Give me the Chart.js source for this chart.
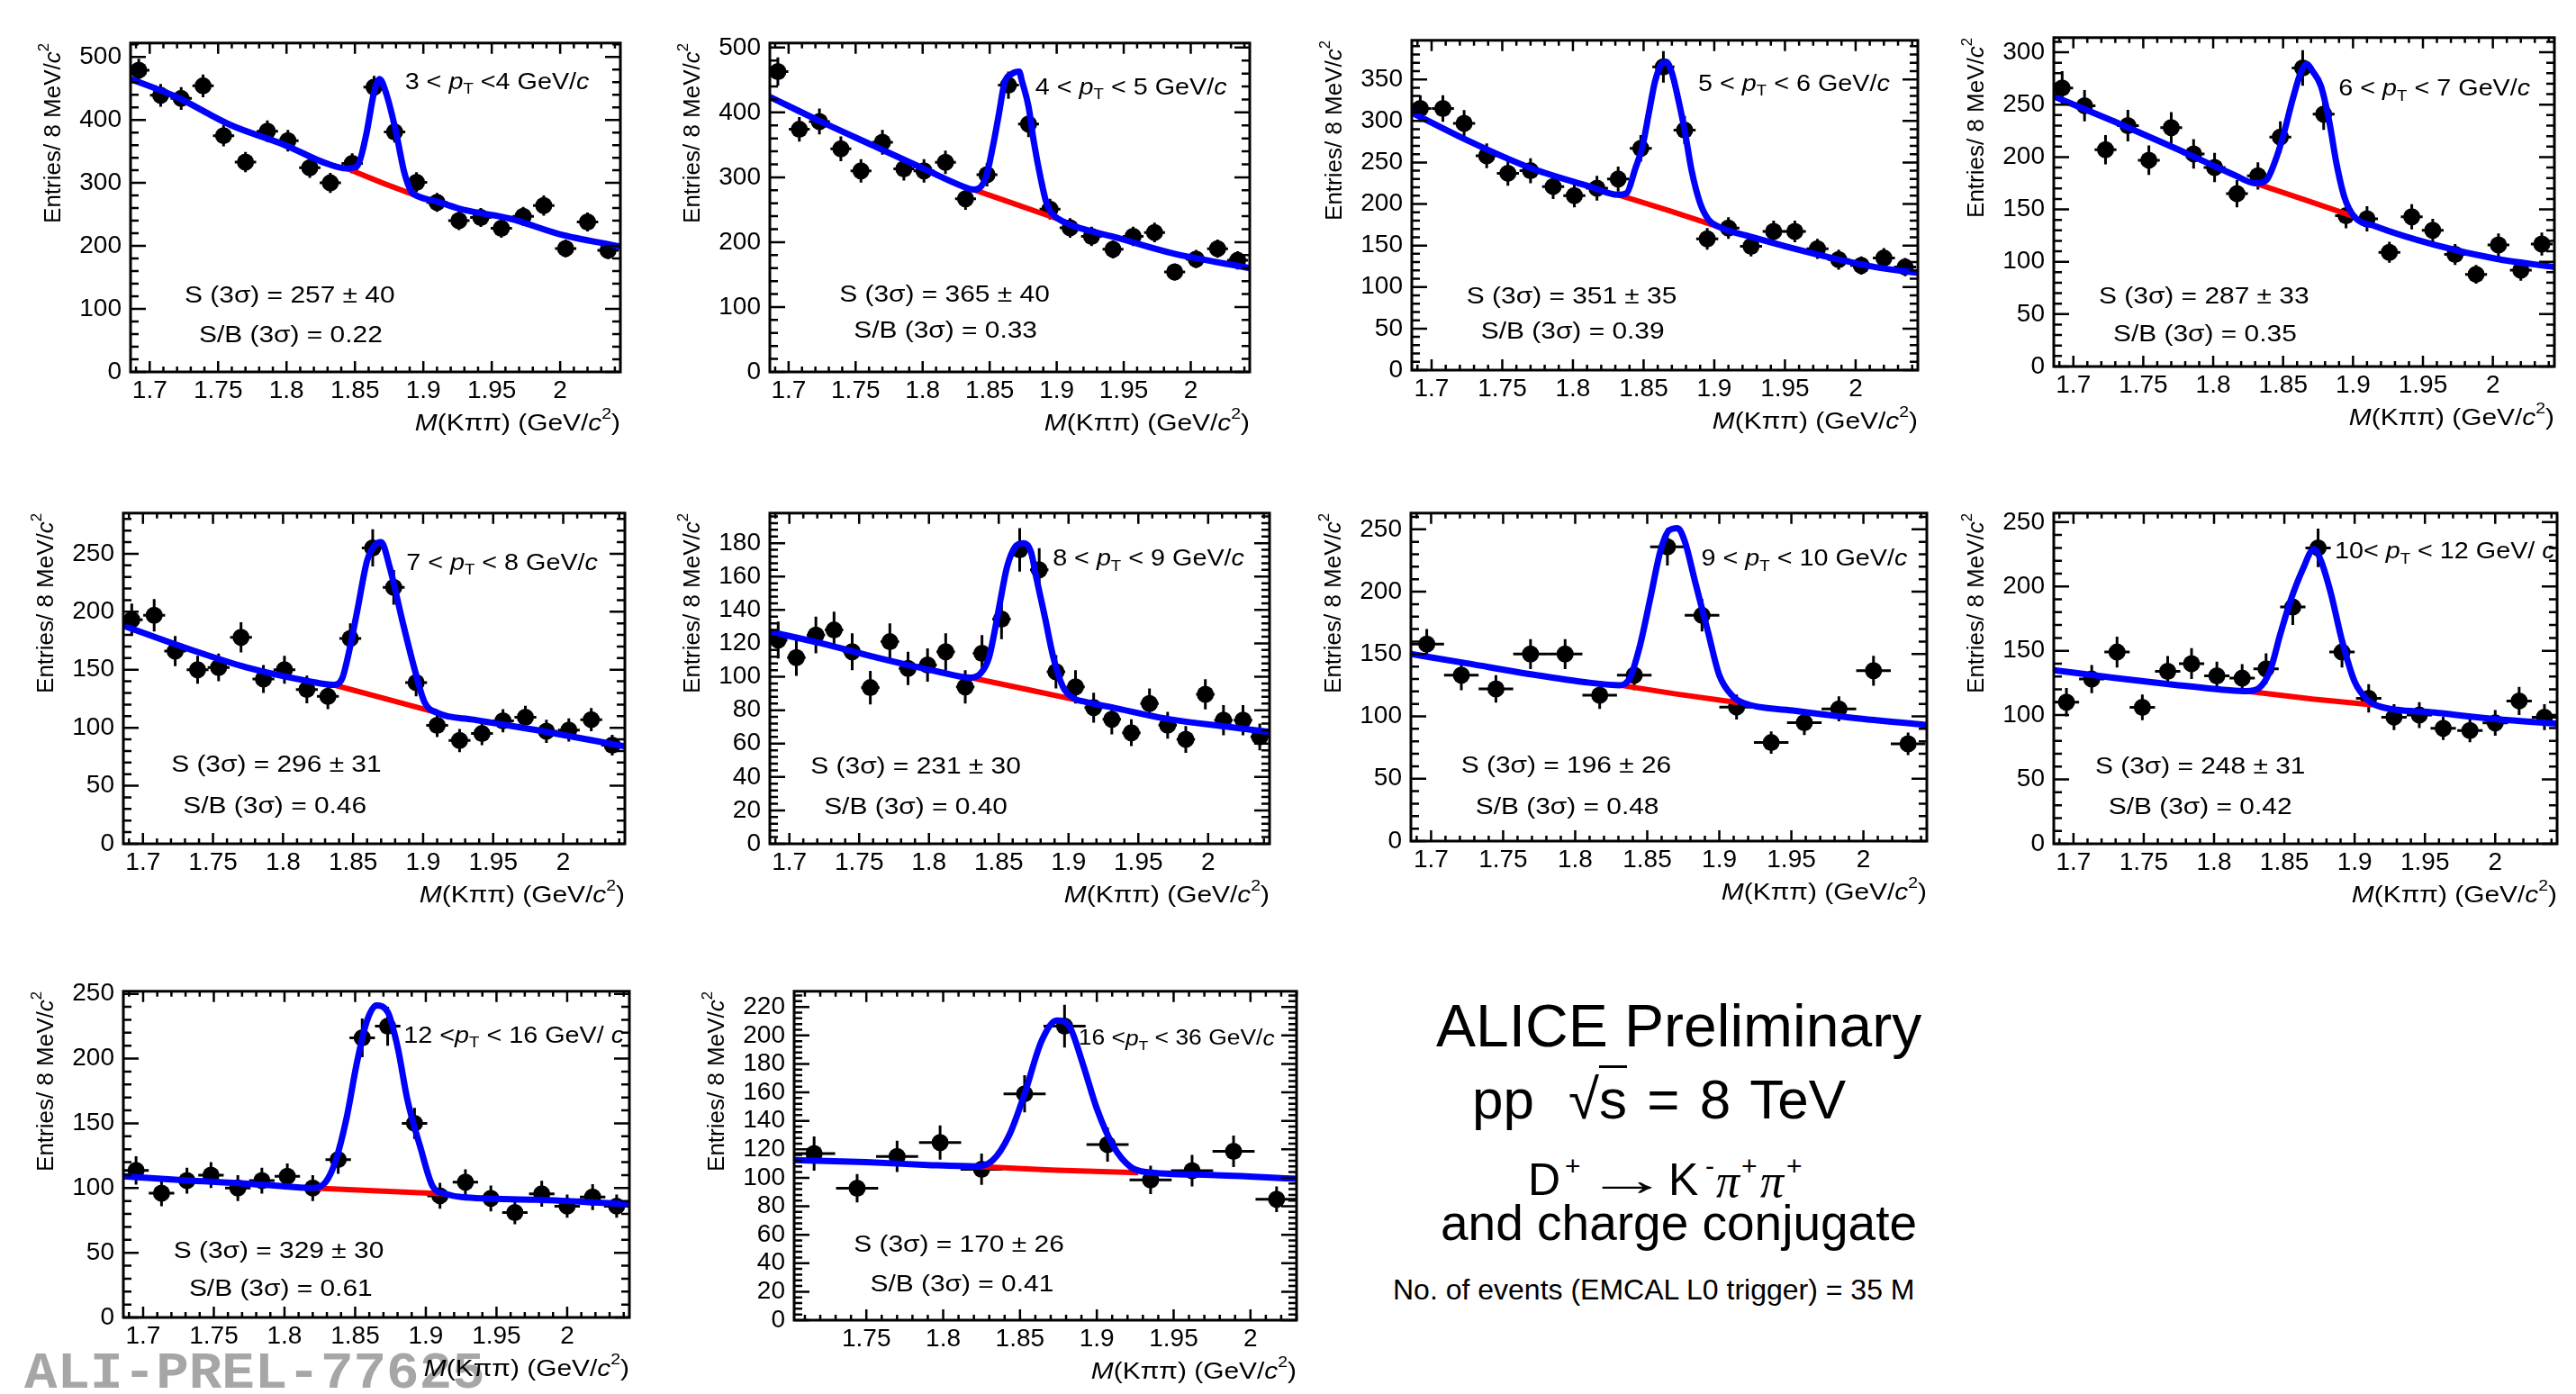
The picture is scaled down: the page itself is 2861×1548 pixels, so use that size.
<!DOCTYPE html>
<html>
<head>
<meta charset="utf-8">
<title>D+ invariant mass spectra</title>
<script src="https://cdn.jsdelivr.net/npm/chart.js@4.4.0/dist/chart.umd.min.js"></script>
<style>
  body { margin: 0; background: #fff; }
  #page { position: relative; width: 2861px; height: 1548px; overflow: hidden;
          font-family: 'Liberation Sans', Arial, sans-serif; color: #000; }
  #page canvas { position: absolute; }
  .txt { position: absolute; white-space: nowrap; line-height: 1; }
  .ov { border-top: 3px solid #000; }
  .pi { font-family: 'Liberation Serif', serif; font-style: italic; }
  #watermark { left: 27px; top: 1497px; font-family: 'Liberation Mono', monospace; font-weight: bold;
               font-size: 58px; color: #a6a6a6; transform: scaleX(1.05); transform-origin: left top; }
</style>
</head>
<body>
<div id="page">
  <div class="txt" id="watermark">ALI-PREL-77625</div>
  <div class="txt" style="left:1595px; top:1106px; font-size:66px;">ALICE Preliminary</div>
  <div class="txt" style="left:1635px; top:1190px; font-size:62px; word-spacing:5px;">pp<span style="margin-left:38px">√</span><span class="ov">s</span> = 8 TeV</div>
  <!-- D+ -> K- pi+ pi+ -->
  <div class="txt" style="left:1697px; top:1285px; font-size:50px;">D</div>
  <div class="txt" style="left:1738px; top:1280px; font-size:30px;">+</div>
  <div class="txt" style="left:1761px; top:1285px; font-size:50px; transform:scaleX(1.85); transform-origin:left top;">→</div>
  <div class="txt" style="left:1853px; top:1285px; font-size:50px;">K</div>
  <div class="txt" style="left:1894px; top:1280px; font-size:30px;">-</div>
  <div class="txt pi" style="left:1906px; top:1286px; font-size:52px;">π</div>
  <div class="txt" style="left:1934px; top:1280px; font-size:30px;">+</div>
  <div class="txt pi" style="left:1955px; top:1286px; font-size:52px;">π</div>
  <div class="txt" style="left:1984px; top:1280px; font-size:30px;">+</div>
  <div class="txt" style="left:1600px; top:1331px; font-size:55px;">and charge conjugate</div>
  <div class="txt" style="left:1547px; top:1416px; font-size:32px;">No. of events (EMCAL L0 trigger) = 35 M</div>
</div>

<script>
'use strict';

// ---- Bin centres (GeV/c^2) ----
const massBins16 = [1.692, 1.708, 1.723, 1.739, 1.754, 1.770, 1.786, 1.801, 1.817, 1.832, 1.848, 1.864,
                    1.879, 1.895, 1.910, 1.926, 1.942, 1.957, 1.973, 1.988, 2.004, 2.020, 2.035];
const mass6  = [1.692, 1.705, 1.719, 1.732, 1.745, 1.758, 1.772, 1.785, 1.799, 1.812, 1.826, 1.838, 1.852, 1.865,
                1.879, 1.891, 1.905, 1.918, 1.931, 1.945, 1.958, 1.971, 1.984, 1.998, 2.011, 2.025, 2.037];
const mass7  = [1.697, 1.721, 1.745, 1.769, 1.793, 1.817, 1.841, 1.864, 1.888, 1.912, 1.936, 1.959, 1.983, 2.007, 2.031];
const mass8  = [1.695, 1.713, 1.731, 1.749, 1.767, 1.784, 1.802, 1.820, 1.837, 1.856, 1.874, 1.891, 1.910, 1.928,
                1.946, 1.963, 1.982, 2.000, 2.017, 2.035];
const mass9  = [1.695, 1.713, 1.731, 1.748, 1.767, 1.784, 1.802, 1.820, 1.838, 1.855, 1.873, 1.892, 1.910, 1.928,
                1.946, 1.963, 1.982, 2.000, 2.018, 2.035];
const mass10 = [1.716, 1.744, 1.770, 1.798, 1.825, 1.853, 1.879, 1.907, 1.935, 1.962, 1.989, 2.017];

// ---- Entries per bin and their errors ----
const counts1 = [479, 439, 434, 454, 375, 333, 382, 367, 324, 300, 331, 452, 381, 301, 269, 240, 245, 228, 247, 264, 196, 238, 193];
const err1    = [18, 18, 18, 18, 17, 16, 17, 17, 16, 16, 16, 18, 17, 16, 15, 15, 15, 15, 15, 16, 14, 15, 14];
const counts2 = [463, 374, 386, 344, 310, 354, 313, 310, 323, 267, 304, 442, 382, 251, 222, 209, 189, 209, 215, 154, 174, 190, 172];
const err2    = [22, 19, 20, 19, 18, 19, 18, 18, 18, 17, 18, 21, 20, 16, 15, 15, 14, 15, 15, 13, 14, 14, 14];
const counts3 = [315, 315, 297, 258, 237, 240, 221, 210, 219, 230, 267, 365, 289, 158, 171, 149, 167, 167, 146, 133, 126, 135, 124];
const err3    = [16, 16, 16, 15, 15, 15, 15, 14, 15, 15, 16, 19, 17, 13, 13, 12, 13, 13, 12, 12, 11, 12, 11];
const counts4 = [266, 249, 207, 230, 197, 228, 203, 190, 165, 182, 219, 285, 241, 144, 141, 109, 143, 130, 107, 88, 116, 92, 117];
const err4    = [16, 15, 14, 15, 14, 15, 14, 14, 13, 13, 15, 17, 15, 12, 12, 10, 12, 11, 10, 9, 11, 10, 11];
const counts5 = [193, 197, 166, 150, 152, 178, 142, 150, 133, 127, 177, 255, 221, 139, 102, 89, 95, 106, 109, 97, 98, 107, 85];
const err5    = [14, 14, 13, 12, 12, 13, 12, 12, 12, 11, 13, 16, 15, 12, 10, 10, 10, 10, 10, 10, 10, 10, 9];
const counts6 = [122, 111.5, 125, 128, 115, 93.5, 121, 105, 107, 115, 94, 114, 134.5, 176, 164, 103, 94, 81.5,
                 74.5, 66.5, 84, 71, 62.5, 89.5, 74, 74, 64];
const err6    = [11, 11, 11, 11, 11, 10, 11, 10, 10, 11, 10, 11, 12, 13, 13, 10, 10, 9, 9, 8, 9, 8, 8, 9, 9, 9, 8];
const counts7 = [158, 133, 122, 150, 150, 117, 133, 236, 181, 107.5, 79, 95, 106, 136.6, 78];
const err7    = [12, 12, 11, 12, 12, 11, 12, 15, 13, 10, 9, 10, 10, 12, 9];
const counts8 = [110, 128, 149, 106, 134, 140, 130.5, 128.7, 136, 184, 230, 149, 113, 98.4, 100, 89.7, 88, 94, 111, 98.4];
const err8    = [11, 11, 12, 10, 12, 12, 11, 11, 12, 14, 15, 12, 11, 10, 10, 9, 9, 10, 11, 10];
const counts9 = [113.6, 96, 105.7, 110, 100, 105.7, 109, 100, 122, 216, 225, 150, 94, 104.5, 92, 81, 95.5, 86, 93, 86];
const err9    = [11, 10, 10, 10, 10, 10, 10, 10, 11, 15, 15, 12, 10, 10, 10, 9, 10, 9, 10, 9];
const counts10 = [117, 92.7, 115, 124.8, 106, 159, 206.5, 123.3, 98.5, 105, 118.6, 84.9];
const err10    = [12, 10, 11, 12, 11, 13, 15, 12, 10, 11, 11, 9];

// half bin width (horizontal error bar) per panel
const binHalfWidths = [0.0078, 0.0078, 0.0078, 0.0078, 0.0078, 0.0066, 0.012, 0.009, 0.009, 0.0137];

// ---- Total fit (blue) and background (red) ----
const fit1 = [[1.686,465],[1.719,437],[1.759,392],[1.799,360],[1.829,331],[1.844,323],[1.852,328],[1.858,374],
              [1.864,444],[1.868,465],[1.873,441],[1.880,381],[1.886,317],[1.891,287],[1.897,278],[1.909,271],
              [1.930,257],[1.964,243],[1.999,219],[2.044,199]];
const bkg1 = [[1.844,323],[1.870,300],[1.897,278]];
const fit2 = [[1.686,424],[1.725,385],[1.763,349],[1.801,313],[1.830,286],[1.838,281],[1.847,299],[1.853,354],
              [1.857,399],[1.861,445],[1.867,460],[1.872,463],[1.874,449],[1.879,409],[1.883,354],[1.888,299],
              [1.892,263],[1.896,245],[1.902,235],[1.914,224],[1.943,208],[1.986,183],[2.044,160]];
const bkg2 = [[1.838,281],[1.870,258],[1.902,235]];
const fit3 = [[1.686,310],[1.726,276],[1.769,244],[1.812,221],[1.832,211],[1.838,213],[1.844,242],[1.849,268],
              [1.854,312],[1.858,347],[1.863,369],[1.866,371],[1.870,358],[1.874,330],[1.879,289],[1.884,240],
              [1.890,201],[1.896,181],[1.904,172],[1.927,160],[1.971,140],[2.014,124],[2.044,117]];
const bkg3 = [[1.832,211],[1.868,192],[1.904,172]];
const fit4 = [[1.686,258],[1.729,234],[1.772,209],[1.815,183],[1.830,175],[1.838,178],[1.844,195],[1.850,220],
              [1.857,256],[1.863,282],[1.867,289],[1.871,282],[1.877,268],[1.883,234],[1.888,195],[1.894,161],
              [1.901,143],[1.916,134],[1.959,116],[2.002,103],[2.044,95]];
const bkg4 = [[1.830,175],[1.866,159],[1.901,143]];
const fit5 = [[1.686,188],[1.730,169],[1.774,152],[1.819,140],[1.836,137],[1.842,142],[1.847,165],[1.853,201],
              [1.860,244],[1.866,258],[1.870,260],[1.876,239],[1.885,193],[1.894,150],[1.901,122],[1.910,113],
              [1.936,107],[1.981,98],[2.044,84]];
const bkg5 = [[1.836,137],[1.870,126],[1.910,113]];
const fit6 = [[1.686,127],[1.723,120],[1.765,111],[1.807,103],[1.830,99.5],[1.837,102],[1.843,111.5],[1.847,127],
              [1.851,145],[1.856,166],[1.862,178],[1.868,180],[1.873,175],[1.877,159],[1.883,136],[1.889,112],
              [1.896,94],[1.904,87],[1.912,85],[1.932,81.5],[1.973,74.5],[2.015,70],[2.044,67]];
const bkg6 = [[1.830,99.5],[1.870,92.5],[1.912,85]];
const fit7 = [[1.686,150],[1.725,142.5],[1.768,134],[1.810,127],[1.831,125],[1.838,131],[1.845,157],[1.852,194],
              [1.859,232],[1.865,249],[1.871,251],[1.876,240.5],[1.883,209],[1.892,168.5],[1.900,133],[1.909,116.5],
              [1.917,110.6],[1.951,104.7],[1.993,98.8],[2.044,93]];
const bkg7 = [[1.831,125],[1.870,118],[1.913,111]];
const fit8 = [[1.686,135],[1.729,129],[1.772,123.6],[1.809,119.5],[1.823,118.6],[1.832,121],[1.840,135],[1.847,162.5],
              [1.854,187.7],[1.863,213],[1.871,229],[1.876,220],[1.883,195],[1.891,158],[1.900,126],[1.909,112],
              [1.917,107],[1.957,102],[2.000,97],[2.044,93.4]];
const bkg8 = [[1.823,118.6],[1.870,112.5],[1.913,108]];
const fit9 = [[1.686,109],[1.730,106],[1.774,103.4],[1.803,101],[1.820,100],[1.829,104.5],[1.836,120.5],[1.844,154.5],
              [1.851,195.5],[1.858,228],[1.865,241],[1.873,236],[1.880,209],[1.887,168],[1.896,132],[1.905,101],
              [1.914,95.5],[1.925,93],[1.978,91],[2.044,87.5]];
const bkg9 = [[1.820,100],[1.870,97.5],[1.914,95.5]];
const fit10 = [[1.703,112.4],[1.750,111],[1.790,109],[1.821,108],[1.832,112],[1.843,130],[1.853,159],[1.864,196],
               [1.874,210.5],[1.882,206.5],[1.891,179.6],[1.900,148.6],[1.911,121.7],[1.922,107.6],[1.932,104],
               [1.974,102],[2.030,99.3]];
const bkg10 = [[1.821,108],[1.870,105.5],[1.927,103.5]];

// ---- Labels ----
const ptLabels = [['3 < ', ' <4 GeV/'], ['4 < ', ' < 5 GeV/'], ['5 < ', ' < 6 GeV/'], ['6 < ', ' < 7 GeV/'],
                  ['7 < ', ' < 8 GeV/'], ['8 < ', ' < 9 GeV/'], ['9 < ', ' < 10 GeV/'], ['10< ', ' < 12 GeV/ '],
                  ['12 <', ' < 16 GeV/ '], ['16 <', ' < 36 GeV/']];
const signalTexts = ['257 ± 40', '365 ± 40', '351 ± 35', '287 ± 33', '296 ± 31',
                     '231 ± 30', '196 ± 26', '248 ± 31', '329 ± 30', '170 ± 26'];
const sbTexts = ['0.22', '0.33', '0.39', '0.35', '0.46', '0.40', '0.48', '0.42', '0.61', '0.41'];

// ---- Axes ----
const xRanges = [[1.686, 2.044], [1.686, 2.044], [1.686, 2.044], [1.686, 2.044], [1.686, 2.044],
                 [1.686, 2.044], [1.686, 2.044], [1.686, 2.044], [1.686, 2.044], [1.703, 2.030]];
const xTicksFull  = [1.7, 1.75, 1.8, 1.85, 1.9, 1.95, 2.0];
const xTicksShort = [1.75, 1.8, 1.85, 1.9, 1.95, 2.0];
const yTicks500 = [0, 100, 200, 300, 400, 500];
const yTicks350 = [0, 50, 100, 150, 200, 250, 300, 350];
const yTicks300 = [0, 50, 100, 150, 200, 250, 300];
const yTicks250 = [0, 50, 100, 150, 200, 250];
const yTicks180 = [0, 20, 40, 60, 80, 100, 120, 140, 160, 180];
const yTicks220 = [0, 20, 40, 60, 80, 100, 120, 140, 160, 180, 200, 220];
const yMaxes = [522, 507, 397, 314, 285, 198, 263, 257, 252, 231];
const ySteps = [100, 100, 50, 50, 50, 20, 50, 50, 50, 20];

const xTickSets = [xTicksFull, xTicksFull, xTicksFull, xTicksFull, xTicksFull,
                   xTicksFull, xTicksFull, xTicksFull, xTicksFull, xTicksShort];
const yTickSets = [yTicks500, yTicks500, yTicks350, yTicks300, yTicks250,
                   yTicks180, yTicks250, yTicks250, yTicks250, yTicks220];

const masses = [massBins16, massBins16, massBins16, massBins16, massBins16, mass6, mass7, mass8, mass9, mass10];
const counts = [counts1, counts2, counts3, counts4, counts5, counts6, counts7, counts8, counts9, counts10];
const errors = [err1, err2, err3, err4, err5, err6, err7, err8, err9, err10];
const fits = [fit1, fit2, fit3, fit4, fit5, fit6, fit7, fit8, fit9, fit10];
const bkgs = [bkg1, bkg2, bkg3, bkg4, bkg5, bkg6, bkg7, bkg8, bkg9, bkg10];

// ---- Layout (page pixels): frame left, top, right, bottom ----
const frames = [
  [145, 41, 689, 413], [855, 41, 1388, 413], [1568, 38, 2130, 411], [2281, 35, 2837, 407],
  [137, 563, 694, 937], [855, 563, 1410, 937], [1567, 563, 2140, 934], [2281, 563, 2840, 937],
  [137, 1094, 699, 1463], [882, 1094, 1440, 1466]
];
// text anchors as fractions of the frame
const ptPos = [[0.56,0.12],[0.553,0.137],[0.566,0.134],[0.569,0.157],[0.564,0.153],
               [0.566,0.14],[0.563,0.141],[0.558,0.118],[0.554,0.138],[0.566,0.146]];
const ptSizes = [25, 25, 25, 25, 25, 25, 25, 25, 25, 23];
const sPos  = [[0.325,0.77],[0.364,0.767],[0.316,0.779],[0.30,0.788],[0.305,0.762],
               [0.292,0.767],[0.301,0.773],[0.291,0.768],[0.307,0.797],[0.328,0.773]];
const sbPos = [[0.327,0.89],[0.366,0.876],[0.318,0.886],[0.302,0.904],[0.302,0.887],
               [0.292,0.89],[0.303,0.897],[0.291,0.891],[0.311,0.914],[0.334,0.892]];

const FONT = "'Liberation Sans', Arial, sans-serif";
const PAD_L = 110, PAD_T = 20, PAD_R = 20, PAD_B = 80;
const SX = 1.15;   // panels are horizontally stretched in the original

// ---- draw a run of text pieces (italic / sub / sup) ----
function drawRich(ctx, segs, x, y, size, align, stretch) {
  ctx.save();
  ctx.translate(x, y);
  ctx.scale(stretch, 1);
  ctx.fillStyle = '#000';
  ctx.textBaseline = 'middle';
  ctx.textAlign = 'left';
  const parts = segs.map(s => {
    const fs = (s.sub || s.sup) ? size * 0.65 : size;
    const font = (s.it ? 'italic ' : '') + fs + 'px ' + FONT;
    ctx.font = font;
    return { t: s.t, font, w: ctx.measureText(s.t).width,
             dy: s.sub ? size * 0.32 : (s.sup ? -size * 0.4 : 0) };
  });
  const total = parts.reduce((a, p) => a + p.w, 0);
  let cx = align === 'center' ? -total / 2 : (align === 'right' ? -total : 0);
  for (const p of parts) {
    ctx.font = p.font;
    ctx.fillText(p.t, cx, p.dy);
    cx += p.w;
  }
  ctx.restore();
}

// ROOT style: major ticks subdivided in 5
function minorTicks(scale, major) {
  const minor = major / 5;
  const out = [];
  const k0 = Math.ceil(scale.min / minor - 1e-6);
  const k1 = Math.floor(scale.max / minor + 1e-6);
  for (let k = k0; k <= k1; k++) out.push({ v: k * minor, major: k % 5 === 0 });
  return out;
}

function makeRootPlugin(p) {
  return {
    id: 'rootStyle' + p,
    beforeDatasetsDraw(chart) {
      const { ctx, chartArea: a, scales: { x, y } } = chart;
      const xs = masses[p], ys = counts[p], es = errors[p], hw = binHalfWidths[p];
      ctx.save();
      ctx.beginPath();
      ctx.rect(a.left, a.top, a.right - a.left, a.bottom - a.top);
      ctx.clip();
      ctx.strokeStyle = '#000';
      ctx.lineWidth = 3;
      for (let i = 0; i < xs.length; i++) {
        const px = x.getPixelForValue(xs[i]);
        const py = y.getPixelForValue(ys[i]);
        ctx.beginPath();
        ctx.moveTo(px, y.getPixelForValue(ys[i] - es[i]));
        ctx.lineTo(px, y.getPixelForValue(ys[i] + es[i]));
        ctx.moveTo(x.getPixelForValue(xs[i] - hw), py);
        ctx.lineTo(x.getPixelForValue(xs[i] + hw), py);
        ctx.stroke();
      }
      ctx.restore();
    },
    afterDatasetsDraw(chart) {
      const { ctx, chartArea: a, scales: { x, y } } = chart;
      const w = a.right - a.left, h = a.bottom - a.top;
      ctx.save();
      ctx.strokeStyle = '#000';

      // inward ticks on all four sides
      ctx.lineWidth = 2.5;
      ctx.beginPath();
      for (const t of minorTicks(x, 0.05)) {
        const px = x.getPixelForValue(t.v);
        const len = t.major ? 12 : 6;
        ctx.moveTo(px, a.bottom); ctx.lineTo(px, a.bottom - len);
        ctx.moveTo(px, a.top);    ctx.lineTo(px, a.top + len);
      }
      for (const t of minorTicks(y, ySteps[p])) {
        const py = y.getPixelForValue(t.v);
        const len = t.major ? 17 : 9;
        ctx.moveTo(a.left, py);  ctx.lineTo(a.left + len, py);
        ctx.moveTo(a.right, py); ctx.lineTo(a.right - len, py);
      }
      ctx.stroke();

      // frame
      ctx.lineWidth = 3;
      ctx.strokeRect(a.left, a.top, w, h);
      ctx.restore();

      // texts inside the frame
      const pt = ptLabels[p];
      drawRich(ctx, [{ t: pt[0] }, { t: 'p', it: true }, { t: 'T', sub: true }, { t: pt[1] }, { t: 'c', it: true }],
               a.left + ptPos[p][0] * w, a.top + ptPos[p][1] * h, ptSizes[p], 'left', SX);
      drawRich(ctx, [{ t: 'S (3σ) = ' + signalTexts[p] }],
               a.left + sPos[p][0] * w, a.top + sPos[p][1] * h, 26, 'center', SX);
      drawRich(ctx, [{ t: 'S/B (3σ) = ' + sbTexts[p] }],
               a.left + sbPos[p][0] * w, a.top + sbPos[p][1] * h, 26, 'center', SX);

      // axis titles
      drawRich(ctx, [{ t: 'M', it: true }, { t: '(Kππ) (GeV/' }, { t: 'c', it: true }, { t: '2', sup: true }, { t: ')' }],
               a.right, a.bottom + 58, 26, 'right', SX);
      ctx.save();
      ctx.translate(a.left - 85, a.top);
      ctx.rotate(-Math.PI / 2);
      drawRich(ctx, [{ t: 'Entries/ 8 MeV/' }, { t: 'c', it: true }, { t: '2', sup: true }], 0, 0, 26, 'right', 1);
      ctx.restore();
    }
  };
}

const toXY = pairs => pairs.map(([x, y]) => ({ x, y }));

function buildPanel(p) {
  const [L, T, R, B] = frames[p];
  const w = (R - L) + PAD_L + PAD_R;
  const h = (B - T) + PAD_T + PAD_B;
  const canvas = document.createElement('canvas');
  canvas.width = w;
  canvas.height = h;
  canvas.style.left = (L - PAD_L) + 'px';
  canvas.style.top = (T - PAD_T) + 'px';
  canvas.style.width = w + 'px';
  canvas.style.height = h + 'px';
  document.getElementById('page').appendChild(canvas);

  const points = masses[p].map((m, i) => ({ x: m, y: counts[p][i] }));

  new Chart(canvas, {
    type: 'scatter',
    data: {
      datasets: [
        { data: points, pointRadius: 9.5, pointHoverRadius: 9.5, pointBackgroundColor: '#000',
          pointBorderWidth: 0, showLine: false, order: 2 },
        { data: toXY(bkgs[p]), showLine: true, borderColor: '#ff0000', borderWidth: 6,
          pointRadius: 0, fill: false, tension: 0, order: 1 },
        { data: toXY(fits[p]), showLine: true, borderColor: '#0000ff', borderWidth: 7,
          pointRadius: 0, fill: false, cubicInterpolationMode: 'monotone', order: 0 }
      ]
    },
    options: {
      responsive: false,
      animation: false,
      events: [],
      layout: { padding: { left: 0, top: PAD_T, right: PAD_R, bottom: 0 } },
      plugins: { legend: { display: false }, tooltip: { enabled: false } },
      scales: {
        x: {
          type: 'linear', position: 'bottom', bounds: 'data',
          min: xRanges[p][0], max: xRanges[p][1],
          grid: { display: false, drawTicks: false }, border: { display: false },
          ticks: { autoSkip: false, maxRotation: 0, padding: 4,
                   color: '#000', font: { family: FONT, size: 28 },
                   callback: v => String(+v.toFixed(2)) },
          afterBuildTicks: s => { s.ticks = xTickSets[p].map(v => ({ value: v })); },
          afterFit: s => { s.height = PAD_B; }
        },
        y: {
          type: 'linear', position: 'left', bounds: 'data',
          min: 0, max: yMaxes[p],
          grid: { display: false, drawTicks: false }, border: { display: false },
          ticks: { autoSkip: false, padding: 10,
                   color: '#000', font: { family: FONT, size: 28 } },
          afterBuildTicks: s => { s.ticks = yTickSets[p].map(v => ({ value: v })); },
          afterFit: s => { s.width = PAD_L; }
        }
      }
    },
    plugins: [makeRootPlugin(p)]
  });
}

for (let p = 0; p < frames.length; p++) buildPanel(p);
</script>
</body>
</html>
